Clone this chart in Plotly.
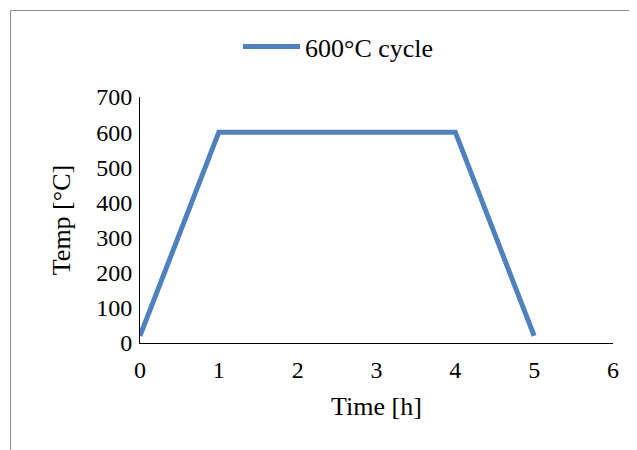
import plotly.graph_objects as go

time_h = [0, 1, 4, 5]
temp_c = [20, 600, 600, 20]
series_name = "600°C cycle"
x_ticks = [0, 1, 2, 3, 4, 5, 6]
y_ticks = [0, 100, 200, 300, 400, 500, 600, 700]

# page has an 8px body margin, so the figure is sized to fit the window
W, H = 629, 442
L, R, T, B = 132, 24, 89, 107
pw, ph = W - L - R, H - T - B

serif = "Liberation Serif, Times New Roman, serif"
tick_font = dict(family=serif, size=24, color="black")
title_font = dict(family=serif, size=26, color="black")
legend_font = dict(family=serif, size=26, color="black")

fig = go.Figure()
fig.add_trace(go.Scatter(x=time_h, y=temp_c, mode="lines", name=series_name,
                         line=dict(color="#4F81BD", width=5)))


def px2x(p):
    return (p - L) / pw


def py2y(p):
    return (H - B - p) / ph


fig.update_layout(
    width=W, height=H,
    margin=dict(l=L, r=R, t=T, b=B, pad=0),
    paper_bgcolor="white", plot_bgcolor="white",
    font=tick_font,
    showlegend=True,
    legend=dict(orientation="h", x=px2x(230), y=py2y(38.7), xanchor="left", yanchor="middle",
                font=legend_font, bgcolor="rgba(0,0,0,0)", itemwidth=57),
    xaxis=dict(range=[0, 6], tickvals=x_ticks, showgrid=False, zeroline=False,
               showline=True, linecolor="black", linewidth=1,
               ticks="outside", ticklen=5, tickcolor="rgba(0,0,0,0)", tickfont=tick_font,
               title=dict(text="Time [h]", font=title_font, standoff=15), fixedrange=True),
    yaxis=dict(range=[0, 700], tickvals=y_ticks, showgrid=False, zeroline=False,
               showline=True, linecolor="black", linewidth=1,
               ticks="outside", ticklen=2, tickcolor="rgba(0,0,0,0)", tickfont=tick_font,
               title=dict(text="Temp [°C]", font=title_font, standoff=18), fixedrange=True),
    shapes=[dict(type="rect", xref="paper", yref="paper",
                 x0=px2x(2.5), x1=px2x(700), y0=py2y(2.5), y1=py2y(500),
                 line=dict(color="#8c8c8c", width=1), fillcolor="rgba(0,0,0,0)", layer="below")],
)

fig.write_html("out.html")
